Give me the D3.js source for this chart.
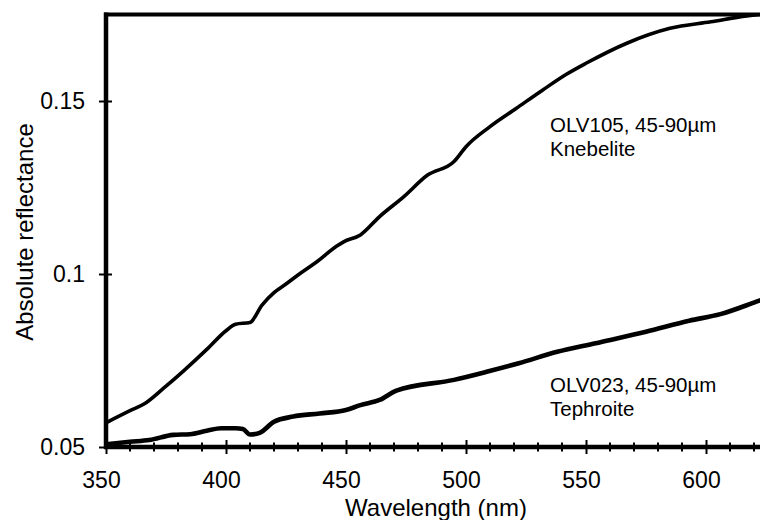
<!DOCTYPE html>
<html lang="en">
<head>
<meta charset="UTF-8">
<title>Absolute reflectance</title>
<script src="https://d3js.org/d3.v7.min.js"></script>
<style>
    body { margin: 0; background: #fff; }
    text { font-family: Arial, "Liberation Sans", sans-serif; fill: #000; }
    .tick text { font-size: 23px; }
</style>
</head>
<body>
<svg width="760" height="520"></svg>
<script>
    // Knebelite, OLV105 45-90um
    const knebWave = [350, 360, 366, 374, 382, 392, 400, 404, 410, 415, 420, 425, 431, 438, 446, 449, 456, 464, 474, 484, 495, 500, 510, 521, 532, 542, 550, 567, 585, 602, 617, 625];
    const knebRefl = [0.0570, 0.0605, 0.0625, 0.0670, 0.0718, 0.0782, 0.0836, 0.0855, 0.0860, 0.0910, 0.0946, 0.0971, 0.1002, 0.1036, 0.1080, 0.1093, 0.1113, 0.1166, 0.1223, 0.1286, 0.1325, 0.1368, 0.1426, 0.1479, 0.1532, 0.1578, 0.1609, 0.1667, 0.1710, 0.1729, 0.1746, 0.1752];

    // Tephroite, OLV023 45-90um
    const tephWave = [350, 360, 368, 378, 385, 392, 398, 404, 407, 410, 414, 420, 428, 439, 450, 456, 464, 471, 495, 509, 522, 538, 554, 575, 593, 606, 621, 625];
    const tephRefl = [0.0508, 0.0515, 0.0520, 0.0535, 0.0537, 0.0547, 0.0554, 0.0554, 0.0552, 0.0536, 0.0541, 0.0573, 0.0588, 0.0597, 0.0607, 0.0621, 0.0636, 0.0663, 0.0694, 0.0718, 0.0742, 0.0775, 0.0800, 0.0833, 0.0865, 0.0884, 0.0920, 0.0930];

    const xMajor = [350, 400, 450, 500, 550, 600];
    const xMinor = d3.range(360, 630, 10).filter(v => v % 50 !== 0);
    const yMajor = [0.05, 0.1, 0.15];
    const yLabels = ["0.05", "0.1", "0.15"];

    const svg = d3.select("svg");

    // plot frame: left edge 106, top 14.5, bottom 447, runs off the right side
    const x = d3.scaleLinear().domain([350, 600]).range([106, 706]);
    const y = d3.scaleLinear().domain([0.05, 0.15]).range([447, 101]);
    const yTop = 0.175;

    svg.append("clipPath").attr("id", "plot")
        .append("rect")
        .attr("x", x(350)).attr("y", y(yTop))
        .attr("width", 760 - x(350)).attr("height", y(0.05) - y(yTop));

    const line = d3.line()
        .x(d => x(d[0]))
        .y(d => y(d[1]))
        .curve(d3.curveMonotoneX);

    const curves = svg.append("g").attr("clip-path", "url(#plot)");
    curves.append("path")
        .datum(d3.zip(knebWave, knebRefl))
        .attr("d", line)
        .attr("fill", "none")
        .attr("stroke", "#000")
        .attr("stroke-width", 3.6)
        .attr("stroke-linejoin", "round");
    curves.append("path")
        .datum(d3.zip(tephWave, tephRefl))
        .attr("d", line)
        .attr("fill", "none")
        .attr("stroke", "#000")
        .attr("stroke-width", 4.6)
        .attr("stroke-linejoin", "round");

    // top border
    svg.append("line")
        .attr("x1", x(350) - 2).attr("x2", 760)
        .attr("y1", y(yTop)).attr("y2", y(yTop))
        .attr("stroke", "#000").attr("stroke-width", 4);

    // x axis (ticks cross the axis line)
    const xAxis = svg.append("g")
        .attr("transform", `translate(0,${y(0.05)})`)
        .call(d3.axisBottom(x).tickValues(xMajor).tickSize(7).tickPadding(18).tickFormat(d3.format("d")));
    xAxis.select(".domain").remove();
    xAxis.selectAll(".tick line").attr("y1", -7).attr("stroke-width", 2);
    xAxis.selectAll(".tick text").attr("dx", -5);
    xAxis.selectAll(".minor").data(xMinor).enter().append("line")
        .attr("x1", d => x(d)).attr("x2", d => x(d))
        .attr("y1", -4.5).attr("y2", 4.5)
        .attr("stroke", "#000").attr("stroke-width", 2);
    xAxis.append("line")
        .attr("x1", x(350) - 2).attr("x2", 760)
        .attr("y1", 0).attr("y2", 0)
        .attr("stroke", "#000").attr("stroke-width", 4.5);

    // y axis
    const yAxis = svg.append("g")
        .attr("transform", `translate(${x(350)},0)`)
        .call(d3.axisLeft(y).tickValues(yMajor).tickSize(7).tickPadding(14)
            .tickFormat((d, i) => yLabels[i]));
    yAxis.select(".domain").remove();
    yAxis.selectAll(".tick line").attr("x2", 6).attr("x1", -7).attr("stroke-width", 2);
    yAxis.append("line")
        .attr("x1", 0).attr("x2", 0)
        .attr("y1", y(yTop) - 2).attr("y2", y(0.05) + 2)
        .attr("stroke", "#000").attr("stroke-width", 4.5);

    // axis titles
    svg.append("text")
        .attr("x", 436).attr("y", 516)
        .attr("text-anchor", "middle")
        .style("font-size", "24px")
        .text("Wavelength (nm)");
    svg.append("text")
        .attr("transform", "translate(33,232) rotate(-90)")
        .attr("text-anchor", "middle")
        .style("font-size", "24px")
        .text("Absolute reflectance");

    // curve labels
    const notes = [
        { lines: ["OLV105, 45-90\u00b5m", "Knebelite"], yb: 132 },
        { lines: ["OLV023, 45-90\u00b5m", "Tephroite"], yb: 392 }
    ];
    notes.forEach(n => {
        n.lines.forEach((t, i) => {
            svg.append("text")
                .attr("x", 550).attr("y", n.yb + i * 24)
                .style("font-size", "20.5px")
                .text(t);
        });
    });
</script>
</body>
</html>
